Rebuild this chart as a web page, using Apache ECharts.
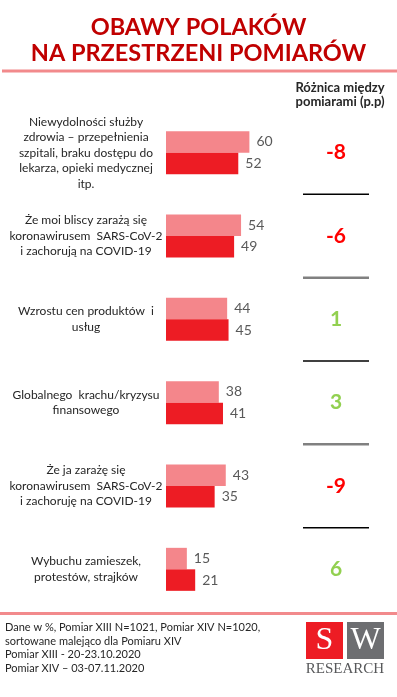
<!DOCTYPE html>
<html>
<head>
<meta charset="utf-8">
<script src="https://cdn.jsdelivr.net/npm/echarts@6/dist/echarts.min.js"></script>
<style>
	html, body { margin: 0; padding: 0; background: #fff; }
	#chart { width: 397px; height: 697px; }
</style>
</head>
<body>
<div id="chart"></div>
<script>
// dane z wykresu
let categories = [
	"Niewydolności służby\nzdrowia – przepełnienia\nszpitali, braku dostępu do\nlekarza, opieki medycznej\nitp.",
	"Że moi bliscy zarażą się\nkoronawirusem  SARS-CoV-2\ni zachorują na COVID-19",
	"Wzrostu cen produktów  i\nusług",
	"Globalnego  krachu/kryzysu\nfinansowego",
	"Że ja zarażę się\nkoronawirusem  SARS-CoV-2\ni zachoruję na COVID-19",
	"Wybuchu zamieszek,\nprotestów, strajków"
];
let pomiarXIII = [60, 54, 44, 38, 43, 15];
let pomiarXIV = [52, 49, 45, 41, 35, 21];
let roznica = [-8, -6, 1, 3, -9, 6];

let footerLines = [
	"Dane w %, Pomiar XIII N=1021, Pomiar XIV N=1020,",
	"sortowane malejąco dla Pomiaru XIV",
	"Pomiar XIII - 20-23.10.2020",
	"Pomiar XIV – 03-07.11.2020"
];

let font = "Lato, 'Liberation Sans', sans-serif";
let chart = echarts.init(document.getElementById("chart"));

let gridTop = 111;
let gridHeight = 500;

let footerText = footerLines.map(function(t, i) {
	return {
		type: "text",
		left: 5,
		top: 622 + i * 13.5,
		style: { text: t, fontSize: 11, fontFamily: font, fill: "#262626" }
	};
});

let option = {
	animation: false,
	title: {
		text: "OBAWY POLAKÓW\nNA PRZESTRZENI POMIARÓW",
		left: "center",
		top: 9,
		textStyle: {
			fontSize: 23.5,
			lineHeight: 26,
			fontWeight: "bold",
			color: "#c00000",
			fontFamily: font
		}
	},
	grid: [
		{ left: 166, top: gridTop, width: 139, height: gridHeight },
		{ left: 303, top: gridTop, width: 66, height: gridHeight }
	],
	xAxis: [
		{ type: "value", min: 0, max: 100, show: false },
		{ type: "value", min: 0, max: 1, show: false, gridIndex: 1 }
	],
	yAxis: [
		{
			type: "category",
			inverse: true,
			data: categories,
			axisLine: { show: false },
			axisTick: { show: false },
			axisLabel: {
				align: "center",
				margin: 80,
				fontSize: 12,
				lineHeight: 15.5,
				color: "#262626",
				fontFamily: font
			}
		},
		{
			type: "category",
			inverse: true,
			data: categories,
			show: false,
			gridIndex: 1
		}
	],
	series: [
		{
			name: "Pomiar XIII",
			type: "bar",
			data: pomiarXIII,
			barWidth: 21.5,
			barGap: "0%",
			itemStyle: { color: "#f4868b" },
			label: {
				show: true,
				position: "right",
				distance: 7,
				fontSize: 14,
				color: "#595959",
				fontFamily: font
			}
		},
		{
			name: "Pomiar XIV",
			type: "bar",
			data: pomiarXIV,
			barWidth: 21.5,
			barGap: "0%",
			itemStyle: { color: "#ed1c24" },
			label: {
				show: true,
				position: "right",
				distance: 7,
				fontSize: 14,
				color: "#595959",
				fontFamily: font
			}
		},
		{
			// kolumna z różnicą + kreski pomiędzy
			type: "custom",
			xAxisIndex: 1,
			yAxisIndex: 1,
			data: roznica.map(function(d, i) { return [0.5, i, d]; }),
			encode: { x: 0, y: 1 },
			renderItem: function(params, api) {
				let idx = api.value(1);
				let val = api.value(2);
				let c = api.coord([0.5, idx]);
				let band = api.size([0, 1])[1];
				let cs = params.coordSys;
				let children = [{
					type: "text",
					x: c[0],
					y: c[1],
					style: {
						text: String(val),
						textAlign: "center",
						textVerticalAlign: "middle",
						fontSize: 21,
						fontWeight: "bold",
						fontFamily: font,
						fill: val < 0 ? "#ff0000" : "#92d050"
					}
				}];
				if (idx < categories.length - 1) {
					let y = c[1] + band / 2;
					children.push({
						type: "line",
						shape: { x1: cs.x, y1: y, x2: cs.x + cs.width, y2: y },
						style: {
							stroke: idx % 2 === 0 ? "#000000" : "#808080",
							lineWidth: idx % 2 === 0 ? 1.5 : 2.5
						}
					});
				}
				return { type: "group", children: children };
			}
		}
	],
	graphic: [
		{
			type: "rect",
			shape: { x: 2, y: 69.5, width: 395, height: 3 },
			style: { fill: "#f28a8c" }
		},
		{
			type: "text",
			x: 340,
			y: 81,
			style: {
				text: "Różnica między\npomiarami (p.p)",
				textAlign: "center",
				fontSize: 13,
				lineHeight: 14,
				fontWeight: "bold",
				fontFamily: font,
				fill: "#262626"
			}
		},
		{
			type: "rect",
			shape: { x: 0, y: 612, width: 397, height: 3 },
			style: { fill: "#f28a8c" }
		},
		// logo SW Research
		{
			type: "rect",
			shape: { x: 306, y: 622, width: 37, height: 37 },
			style: { fill: "#ed1c24" }
		},
		{
			type: "rect",
			shape: { x: 347, y: 622, width: 37, height: 37 },
			style: { fill: "#6d6e71" }
		},
		{
			type: "text",
			x: 324.5,
			y: 641,
			style: {
				text: "S", textAlign: "center", textVerticalAlign: "middle",
				fontSize: 32, fontFamily: "'Liberation Serif', serif", fill: "#fff"
			}
		},
		{
			type: "text",
			x: 365.5,
			y: 641,
			style: {
				text: "W", textAlign: "center", textVerticalAlign: "middle",
				fontSize: 32, fontFamily: "'Liberation Serif', serif", fill: "#fff"
			}
		},
		{
			type: "text",
			x: 345,
			y: 669,
			style: {
				text: "RESEARCH", textAlign: "center", textVerticalAlign: "middle",
				fontSize: 15, fontFamily: "'Liberation Serif', serif", fill: "#58595b"
			}
		}
	].concat(footerText)
};

chart.setOption(option);
</script>
</body>
</html>
